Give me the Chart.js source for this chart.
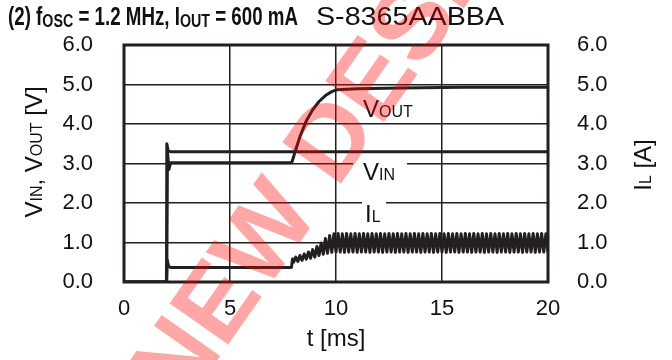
<!DOCTYPE html>
<html>
<head>
<meta charset="utf-8">
<script src="https://cdn.jsdelivr.net/npm/chart.js@4"></script>
<style>
  body { margin: 0; background: #fff; }
</style>
</head>
<body>
<canvas id="chart" width="672" height="360"></canvas>
<script>
const xTicks = [0, 5, 10, 15, 20];
const yTicks = [0, 1, 2, 3, 4, 5, 6];

// V_IN
const vinT = [0, 2.0, 2.02, 2.08, 2.2, 20];
const vinV = [0, 0, 3.5, 3.32, 3.3, 3.3];

// V_OUT
const voutT = [0, 2.0, 2.05, 2.12, 2.2, 7.9, 7.95, 8.1, 8.3, 8.6, 8.9, 9.2, 9.5, 9.8, 10.05, 11, 13, 16, 20];
const voutV = [0, 0, 3.3, 2.85, 3.02, 3.02, 3.08, 3.35, 3.68, 4.08, 4.36, 4.57, 4.72, 4.82, 4.87, 4.89, 4.91, 4.93, 4.93];

// I_L (ripple)
const ilT = [0, 2.0, 2.04, 2.1, 2.2, 7.9, 7.95,
  8.0, 8.1, 8.2, 8.3, 8.4, 8.5, 8.6, 8.7, 8.8, 8.9,
  9.0, 9.1, 9.2, 9.3, 9.4, 9.5, 9.6, 9.7, 9.8, 9.9,
  10.0, 10.1, 10.2, 10.3, 10.4, 10.5, 10.6, 10.7, 10.8, 10.9,
  11.0, 11.1, 11.2, 11.3, 11.4, 11.5, 11.6, 11.7, 11.8, 11.9,
  12.0, 12.1, 12.2, 12.3, 12.4, 12.5, 12.6, 12.7, 12.8, 12.9,
  13.0, 13.1, 13.2, 13.3, 13.4, 13.5, 13.6, 13.7, 13.8, 13.9,
  14.0, 14.1, 14.2, 14.3, 14.4, 14.5, 14.6, 14.7, 14.8, 14.9,
  15.0, 15.1, 15.2, 15.3, 15.4, 15.5, 15.6, 15.7, 15.8, 15.9,
  16.0, 16.1, 16.2, 16.3, 16.4, 16.5, 16.6, 16.7, 16.8, 16.9,
  17.0, 17.1, 17.2, 17.3, 17.4, 17.5, 17.6, 17.7, 17.8, 17.9,
  18.0, 18.1, 18.2, 18.3, 18.4, 18.5, 18.6, 18.7, 18.8, 18.9,
  19.0, 19.1, 19.2, 19.3, 19.4, 19.5, 19.6, 19.7, 19.8, 19.9,
  20.0];
const ilV = [0, 0, 0.56, 0.40, 0.37, 0.37, 0.58,
  0.50, 0.63, 0.52, 0.67, 0.55, 0.71, 0.58, 0.76, 0.60, 0.82,
  0.63, 0.90, 0.67, 0.99, 0.70, 1.10, 0.73, 1.18, 0.75, 1.22,
  0.76, 1.23, 0.76, 1.22, 0.75, 1.23, 0.76, 1.22, 0.76, 1.23,
  0.75, 1.22, 0.76, 1.23, 0.76, 1.22, 0.75, 1.23, 0.76, 1.22,
  0.76, 1.23, 0.75, 1.22, 0.76, 1.23, 0.76, 1.22, 0.75, 1.23,
  0.76, 1.22, 0.76, 1.23, 0.75, 1.22, 0.76, 1.23, 0.76, 1.22,
  0.75, 1.23, 0.76, 1.22, 0.76, 1.23, 0.75, 1.22, 0.76, 1.23,
  0.76, 1.22, 0.75, 1.23, 0.76, 1.22, 0.76, 1.23, 0.75, 1.22,
  0.76, 1.23, 0.76, 1.22, 0.75, 1.23, 0.76, 1.22, 0.76, 1.23,
  0.75, 1.22, 0.76, 1.23, 0.76, 1.22, 0.75, 1.23, 0.76, 1.22,
  0.76, 1.23, 0.75, 1.22, 0.76, 1.23, 0.76, 1.22, 0.75, 1.23,
  0.76, 1.22, 0.76, 1.23, 0.75, 1.22, 0.76, 1.23, 0.76, 1.22,
  0.76];

const FONT = '"Liberation Sans", Arial, sans-serif';
const INK = '#231f20';

Chart.defaults.font.family = FONT;
Chart.defaults.color = '#111';

const toPts = (ts, vs) => ts.map((t, i) => ({ x: t, y: vs[i] }));

// draws text pieces (main + subscripts) on one baseline, optionally squeezed to a width
function drawParts(ctx, parts, x, y, targetW, center) {
  let w = 0;
  parts.forEach(p => { ctx.font = p.f; p.w = ctx.measureText(p.t).width; w += p.w; });
  const sx = targetW ? targetW / w : 1;
  ctx.save();
  ctx.translate(center ? x - w * sx / 2 : x, y);
  ctx.scale(sx, 1);
  let cx = 0;
  parts.forEach(p => { ctx.font = p.f; ctx.fillText(p.t, cx, p.dy || 0); cx += p.w; });
  ctx.restore();
}

const overlay = {
  id: 'overlay',
  afterDatasetsDraw(chart) {
    const ctx = chart.ctx;
    const a = chart.chartArea;
    ctx.save();
    ctx.textAlign = 'left';
    ctx.textBaseline = 'alphabetic';
    ctx.fillStyle = '#111';

    // frame
    ctx.strokeStyle = INK;
    ctx.lineWidth = 3;
    ctx.strokeRect(a.left, a.top, a.right - a.left, a.bottom - a.top);

    // title
    const b = 'bold 25px ' + FONT, bs = 'bold 19px ' + FONT;
    drawParts(ctx, [
      { t: '(2) f', f: b }, { t: 'OSC', f: bs, dy: 2 },
      { t: ' = 1.2 MHz, I', f: b }, { t: 'OUT', f: bs, dy: 2 },
      { t: ' = 600 mA', f: b }
    ], 8, 25, 290);
    drawParts(ctx, [{ t: 'S-8365AABBA', f: '25px ' + FONT }], 316, 25, 188);

    const m = '24px ' + FONT, s = '16px ' + FONT;

    // axis titles
    ctx.save();
    ctx.translate(42, 152);
    ctx.rotate(-Math.PI / 2);
    drawParts(ctx, [
      { t: 'V', f: m }, { t: 'IN', f: s }, { t: ', V', f: m }, { t: 'OUT', f: s }, { t: ' [V]', f: m }
    ], 0, 0, 0, true);
    ctx.restore();

    ctx.save();
    ctx.translate(651, 165);
    ctx.rotate(-Math.PI / 2);
    drawParts(ctx, [{ t: 'I', f: m }, { t: 'L', f: s }, { t: ' [A]', f: m }], 0, 0, 0, true);
    ctx.restore();

    // curve labels
    drawParts(ctx, [{ t: 'V', f: m }, { t: 'OUT', f: s }], 363, 117);
    ctx.fillStyle = '#fff';
    ctx.fillRect(353, 157, 54, 28);
    ctx.fillRect(362, 197, 24, 29);
    ctx.fillStyle = '#111';
    drawParts(ctx, [{ t: 'V', f: m }, { t: 'IN', f: s }], 363, 180);
    drawParts(ctx, [{ t: 'I', f: m }, { t: 'L', f: s }], 365, 222);
    ctx.restore();
  },
  afterDraw(chart) {
    // red watermark
    const ctx = chart.ctx;
    ctx.save();
    ctx.font = 'bold 104px ' + FONT;
    ctx.fillStyle = 'rgba(255, 0, 0, 0.35)';
    ctx.textAlign = 'left';
    ctx.textBaseline = 'alphabetic';
    const off = ctx.measureText('NE').width + ctx.measureText('W').width / 2;
    ctx.translate(262, 232);
    ctx.rotate(-55 * Math.PI / 180);
    ctx.fillText('NEW DESIGN', -off, 37);
    ctx.restore();
  }
};

const lineStyle = {
  borderColor: INK,
  borderWidth: 3,
  borderJoinStyle: 'round',
  borderCapStyle: 'round',
  pointRadius: 0,
  tension: 0,
  fill: false
};

const yAxis = (pos, grid) => ({
  type: 'linear',
  position: pos,
  min: 0,
  max: 6,
  afterBuildTicks: sc => { sc.ticks = yTicks.map(v => ({ value: v })); },
  afterFit: sc => { sc.width = 124; },
  grid: { display: grid, color: INK, lineWidth: 1.5, drawTicks: false },
  border: { display: false },
  ticks: { padding: pos === 'left' ? 31 : 29, font: { size: 22 }, callback: v => v.toFixed(1) }
});

new Chart(document.getElementById('chart'), {
  type: 'line',
  data: {
    datasets: [
      { label: 'VIN', data: toPts(vinT, vinV), yAxisID: 'y', ...lineStyle },
      { label: 'VOUT', data: toPts(voutT, voutV), yAxisID: 'y', ...lineStyle },
      { label: 'IL', data: toPts(ilT, ilV), yAxisID: 'y1', ...lineStyle }
    ]
  },
  options: {
    responsive: false,
    animation: false,
    layout: { padding: { top: 45 } },
    plugins: { legend: { display: false }, tooltip: { enabled: false } },
    scales: {
      x: {
        type: 'linear',
        min: 0,
        max: 20,
        afterBuildTicks: sc => { sc.ticks = xTicks.map(v => ({ value: v })); },
        afterFit: sc => { sc.height = 78; },
        grid: { color: INK, lineWidth: 1.5, drawTicks: false },
        border: { display: false },
        ticks: { padding: 14, font: { size: 22 } },
        title: { display: true, text: 't [ms]', font: { size: 24 }, padding: { top: 0, bottom: 6 } }
      },
      y: yAxis('left', true),
      y1: yAxis('right', false)
    }
  },
  plugins: [overlay]
});
</script>
</body>
</html>
